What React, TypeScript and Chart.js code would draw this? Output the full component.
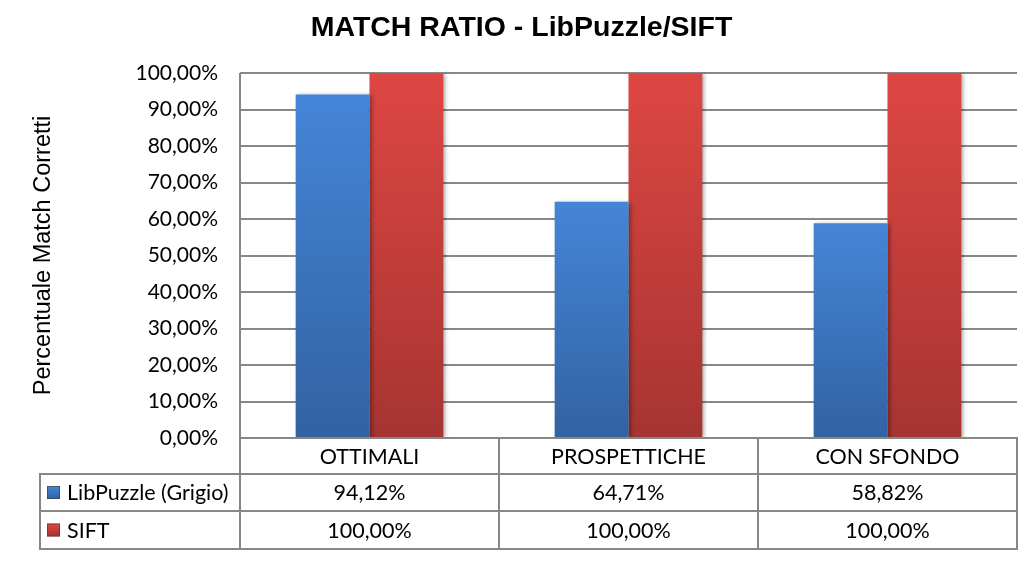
import React, { useEffect, useRef } from "react";
import { Chart, registerables } from "chart.js";

Chart.register(...registerables);

const chartTitle = "MATCH RATIO - LibPuzzle/SIFT";
const yAxisTitle = "Percentuale Match Corretti";
const categories = ["OTTIMALI", "PROSPETTICHE", "CON SFONDO"];
const seriesNames = ["LibPuzzle (Grigio)", "SIFT"];
const libPuzzleValues = [94.12, 64.71, 58.82];
const siftValues = [100, 100, 100];
const yMin = 0;
const yMax = 100;
const yStep = 10;

const BLUE_TOP = "#4585d7";
const BLUE_BOTTOM = "#3262a2";
const RED_TOP = "#de4743";
const RED_BOTTOM = "#a63431";
const GRID = "#878787";
const CAL = 'Lato, "Open Sans", sans-serif';
const ARIAL = '"Liberation Sans", Arial, sans-serif';

const fmt = (v: number) => v.toFixed(2).replace(".", ",") + "%";

const seriesColors = [
  [BLUE_TOP, BLUE_BOTTOM],
  [RED_TOP, RED_BOTTOM],
];

const barGradient = (top: string, bottom: string) => (ctx: any) => {
  const chart = ctx.chart;
  const area = chart.chartArea;
  if (!area || ctx.raw == null) return top;
  const y = chart.scales.y;
  const g = chart.ctx.createLinearGradient(0, y.getPixelForValue(ctx.raw), 0, y.getPixelForValue(yMin));
  g.addColorStop(0, top);
  g.addColorStop(1, bottom);
  return g;
};

const shadowPlugin = {
  id: "barShadow",
  beforeDatasetsDraw(chart: any) {
    const c = chart.ctx;
    c.save();
    c.shadowColor = "rgba(0,0,0,0.35)";
    c.shadowBlur = 4;
    c.shadowOffsetX = 2;
    c.shadowOffsetY = 1;
  },
  afterDatasetsDraw(chart: any) {
    chart.ctx.restore();
  },
};

const tablePlugin = {
  id: "dataTable",
  afterDraw(chart: any) {
    const { ctx, chartArea } = chart;
    const x = chart.scales.x;
    const n = categories.length;
    const catW = (chartArea.right - chartArea.left) / n;
    const rowH = [36, 37, 38];
    const top = chartArea.bottom;
    const r1 = top + rowH[0];
    const r2 = r1 + rowH[1];
    const r3 = r2 + rowH[2];
    const legendLeft = 40;
    const right = chartArea.right;

    ctx.save();
    ctx.strokeStyle = GRID;
    ctx.lineWidth = 2;
    ctx.beginPath();
    ctx.moveTo(chartArea.left, top);
    ctx.lineTo(right, top);
    ctx.moveTo(legendLeft, r1);
    ctx.lineTo(right, r1);
    ctx.moveTo(legendLeft, r2);
    ctx.lineTo(right, r2);
    ctx.moveTo(legendLeft, r3);
    ctx.lineTo(right, r3);
    ctx.moveTo(legendLeft, r1 - 1);
    ctx.lineTo(legendLeft, r3 + 1);
    ctx.moveTo(chartArea.left, chartArea.top);
    ctx.lineTo(chartArea.left, r3 + 1);
    for (let i = 0; i < n; i++) {
      const bx = x.getPixelForValue(i) + catW / 2;
      ctx.moveTo(bx, top - 1);
      ctx.lineTo(bx, r3 + 1);
    }
    ctx.stroke();

    ctx.fillStyle = "#000";
    ctx.textBaseline = "middle";
    ctx.font = `21.5px ${CAL}`;
    ctx.textAlign = "center";
    const rowsData = [libPuzzleValues, siftValues];
    for (let i = 0; i < n; i++) {
      const cx = x.getPixelForValue(i);
      ctx.fillText(categories[i], cx, (top + r1) / 2 + 1);
      ctx.fillText(fmt(rowsData[0][i]), cx, (r1 + r2) / 2 + 1);
      ctx.fillText(fmt(rowsData[1][i]), cx, (r2 + r3) / 2 + 1);
    }
    const rowMids = [(r1 + r2) / 2, (r2 + r3) / 2];
    ctx.textAlign = "left";
    for (let s = 0; s < seriesNames.length; s++) {
      const my = rowMids[s];
      const sz = 13;
      const sx = legendLeft + 7;
      const g = ctx.createLinearGradient(0, my - sz / 2, 0, my + sz / 2);
      g.addColorStop(0, seriesColors[s][0]);
      g.addColorStop(1, seriesColors[s][1]);
      ctx.fillStyle = g;
      ctx.fillRect(sx, my - sz / 2, sz, sz);
      ctx.strokeStyle = "rgba(60,60,60,0.6)";
      ctx.lineWidth = 1;
      ctx.strokeRect(sx + 0.5, my - sz / 2 + 0.5, sz - 1, sz - 1);
      ctx.fillStyle = "#000";
      ctx.fillText(seriesNames[s], legendLeft + 27, my + 1);
    }
    ctx.restore();
  },
};

export default function App() {
  const ref = useRef<HTMLCanvasElement | null>(null);

  useEffect(() => {
    if (!ref.current) return;
    const chart = new Chart(ref.current, {
      type: "bar",
      data: {
        labels: categories,
        datasets: [
          {
            label: seriesNames[0],
            data: libPuzzleValues,
            backgroundColor: barGradient(BLUE_TOP, BLUE_BOTTOM),
            borderWidth: 0,
          },
          {
            label: seriesNames[1],
            data: siftValues,
            backgroundColor: barGradient(RED_TOP, RED_BOTTOM),
            borderWidth: 0,
          },
        ],
      },
      options: {
        responsive: true,
        maintainAspectRatio: false,
        animation: false,
        layout: { padding: { left: 26, right: 10, top: 0, bottom: 0 } },
        datasets: { bar: { categoryPercentage: 0.57, barPercentage: 1 } },
        plugins: {
          legend: { display: false },
          tooltip: { enabled: false },
          title: {
            display: true,
            text: chartTitle,
            color: "#000",
            font: { family: ARIAL, size: 28.5, weight: "bold", lineHeight: 1.2 },
            padding: { top: 11, bottom: 27.8 },
          },
        },
        scales: {
          x: {
            grid: { display: false },
            border: { display: false },
            ticks: { display: false },
            afterFit: (scale: any) => {
              scale.height = 123;
            },
          },
          y: {
            min: yMin,
            max: yMax,
            border: { display: false },
            grid: { color: GRID, lineWidth: 2, drawTicks: false },
            ticks: {
              stepSize: yStep,
              color: "#000",
              padding: 22,
              font: { family: CAL, size: 21 },
              callback: (v: any) => fmt(Number(v)),
            },
            title: {
              display: true,
              text: yAxisTitle,
              color: "#000",
              font: { family: ARIAL, size: 23.5 },
              padding: { top: 3, bottom: 0 },
            },
            afterFit: (scale: any) => {
              scale.width = 214;
            },
          },
        },
      },
      plugins: [shadowPlugin, tablePlugin],
    });
    return () => chart.destroy();
  }, []);

  return (
    <div
      style={{
        position: "fixed",
        left: 0,
        top: 0,
        width: 1027,
        height: 561,
        background: "#fff",
      }}
    >
      <canvas ref={ref} />
    </div>
  );
}
